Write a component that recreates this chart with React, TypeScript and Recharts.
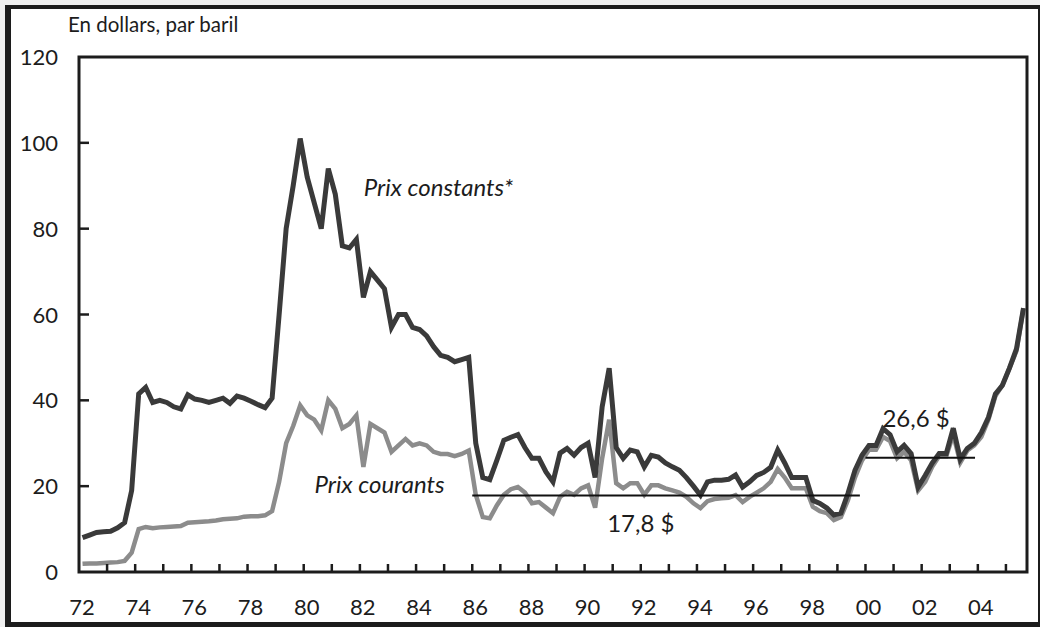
import React from "react";
import { LineChart, Line, XAxis, YAxis, ReferenceLine, ReferenceArea, ReferenceDot } from "recharts";

// quarterly, 1972Q1 .. 2005Q3, dollars per barrel
const constantPrices = [
  8, 8.6, 9.2, 9.4, // 72
  9.5, 10.3, 11.5, 19, // 73
  41.5, 43, 39.5, 40, // 74
  39.5, 38.5, 38, 41.3, // 75
  40.3, 40, 39.5, 40, // 76
  40.5, 39.3, 41, 40.5, // 77
  39.8, 39, 38.3, 40.5, // 78
  60, 80, 90, 101, // 79
  92, 86, 80, 94, // 80
  88, 76, 75.5, 77.5, // 81
  64, 70, 68, 66, // 82
  57, 60, 60, 57, // 83
  56.5, 55, 52.5, 50.5, // 84
  50, 49, 49.5, 50, // 85
  30, 22, 21.5, 26, // 86
  30.7, 31.4, 32, 29, // 87
  26.5, 26.5, 23.3, 21, // 88
  27.7, 28.8, 27.2, 29, // 89
  30, 22, 38.5, 47.5, // 90
  29, 26.5, 28.4, 28, // 91
  24.5, 27.2, 26.8, 25.4, // 92
  24.5, 23.7, 22, 20, // 93
  17.9, 21, 21.4, 21.4, // 94
  21.6, 22.6, 19.8, 21, // 95
  22.5, 23.2, 24.4, 28.4, // 96
  25.4, 22, 22, 22, // 97
  16.7, 16, 14.9, 13.3, // 98
  13.7, 18.3, 23.7, 27.2, // 99
  29.5, 29.5, 33.4, 32, // 00
  28, 29.5, 27.6, 19.8, // 01
  22.5, 25.4, 27.6, 27.6, // 02
  33.5, 26.3, 28.8, 30, // 03
  32.5, 36, 41.5, 43.5, // 04
  47.5, 52, 61.5, // 05
];

const currentPrices = [
  1.9, 2.0, 2.0, 2.1,
  2.2, 2.3, 2.6, 4.5,
  10, 10.5, 10.2, 10.4,
  10.5, 10.6, 10.7, 11.5,
  11.6, 11.7, 11.8, 12.0,
  12.3, 12.4, 12.5, 12.9,
  13.0, 13.0, 13.2, 14.2,
  21, 30, 34, 38.8,
  36.5, 35.5, 33, 40,
  38, 33.5, 34.5, 36.5,
  24.5, 34.5, 33.5, 32.5,
  28, 29.5, 31, 29.5,
  30, 29.5, 28, 27.5,
  27.5, 27, 27.5, 28.3,
  18, 12.8, 12.5, 15.5,
  18, 19.3, 19.8, 18.5,
  16, 16.3, 15, 13.7,
  17.5, 18.7, 18, 19.5,
  20.2, 15, 26.5, 35.5,
  20.7, 19.5, 20.7, 20.7,
  18, 20.2, 20.2, 19.5,
  19, 18.5, 17.5, 16,
  14.9, 16.5, 17, 17.2,
  17.3, 17.9, 16.3, 17.5,
  18.5, 19.5, 21, 24,
  22, 19.5, 19.5, 19.5,
  15.2, 14.2, 13.7, 12.1,
  12.8, 16.7, 22, 26,
  28.5, 28.5, 31.5, 30.5,
  26.5, 28, 26, 19,
  21, 24.5, 27, 27,
  32, 25.5, 28.3, 29.5,
  31.5, 35.5, 41, 43.5,
  47.5, 51.5, 61.5,
];

const yearTicks = [
  1972, 1973, 1974, 1975, 1976, 1977, 1978, 1979, 1980, 1981, 1982, 1983,
  1984, 1985, 1986, 1987, 1988, 1989, 1990, 1991, 1992, 1993, 1994, 1995,
  1996, 1997, 1998, 1999, 2000, 2001, 2002, 2003, 2004, 2005,
];
const yTicks = [0, 20, 40, 60, 80, 100, 120];

// period averages drawn as flat segments
const averages = [
  { value: 17.8, from: 1986, to: 1999.8 },
  { value: 26.6, from: 2000, to: 2003.9 },
];

const notes = [
  { text: "Prix constants*", x: 1984.8, y: 89.9, italic: true },
  { text: "Prix courants", x: 1982.7, y: 20.7, italic: true },
  { text: "17,8 $", x: 1992, y: 11.6, italic: false },
  { text: "26,6 $", x: 2001.8, y: 36.1, italic: false },
];

const data = constantPrices.map((v, i) => ({
  t: 1972 + (i + 0.5) / 4,
  constant: v,
  current: currentPrices[i],
}));

const FONT = "Lato, 'Open Sans', sans-serif";
const INK = "#1c1c1c";

const XTick = ({ x, y, payload }: any) => {
  const yr = payload.value as number;
  return (
    <g>
      {yr > 1972 && <line x1={x} x2={x} y1={y - 8} y2={y} stroke={INK} strokeWidth={2.5} />}
      {yr % 2 === 0 && (
        <text x={x + 3} y={y + 43} textAnchor="middle" fontSize={22} fill={INK} fontFamily={FONT}>
          {String(yr).slice(2)}
        </text>
      )}
    </g>
  );
};

const YTick = ({ x, y, payload }: any) => {
  const v = payload.value as number;
  return (
    <g>
      {v > 0 && v < 120 && <line x1={x} x2={x + 10} y1={y} y2={y} stroke={INK} strokeWidth={2.5} />}
      <text x={x - 21} y={y + 8} textAnchor="end" fontSize={22} fill={INK} fontFamily={FONT}>
        {v}
      </text>
    </g>
  );
};

export default function App() {
  return (
    <div style={{ position: "absolute", left: 0, top: 0, width: 1040, height: 627, background: "#efefef" }}>
      <div
        style={{
          position: "absolute", left: 5, top: 5, width: 1035, height: 622, boxSizing: "border-box",
          background: "#fff", borderStyle: "solid", borderColor: INK,
          borderWidth: "4px 2px 5px 6px",
        }}
      />
      <div
        style={{
          position: "absolute", left: 68, top: 11, fontFamily: FONT, fontSize: 20.5, color: INK,
          lineHeight: "26px", whiteSpace: "nowrap",
        }}
      >
        En dollars, par baril
      </div>
      <div style={{ position: "absolute", left: 0, top: 0 }}>
        <LineChart width={1040} height={627} data={data} margin={{ top: 57, right: 13, bottom: 0, left: 0 }}>
          <XAxis
            dataKey="t"
            type="number"
            domain={[1972, 2005.75]}
            ticks={yearTicks}
            interval={0}
            allowDataOverflow
            height={55}
            tickSize={0}
            tickMargin={0}
            tickLine={false}
            axisLine={false}
            tick={<XTick />}
          />
          <YAxis
            type="number"
            domain={[0, 120]}
            ticks={yTicks}
            interval={0}
            width={79}
            tickSize={0}
            tickMargin={0}
            tickLine={false}
            axisLine={false}
            tick={<YTick />}
          />
          <ReferenceArea x1={1972} x2={2005.75} y1={0} y2={120} fill="none" stroke={INK} strokeWidth={3} />
          <Line dataKey="current" type="linear" stroke="#8c8c8c" strokeWidth={4.5} dot={false} isAnimationActive={false} />
          <Line dataKey="constant" type="linear" stroke="#3a3a3a" strokeWidth={5} dot={false} isAnimationActive={false} />
          {averages.map((a) => (
            <ReferenceLine
              key={a.value}
              segment={[{ x: a.from, y: a.value }, { x: a.to, y: a.value }]}
              stroke="#111"
              strokeWidth={2}
            />
          ))}
          {notes.map((n) => (
            <ReferenceDot
              key={n.text}
              x={n.x}
              y={n.y}
              r={0}
              shape={(p: any) => (
                <text
                  x={p.cx}
                  y={p.cy}
                  textAnchor="middle"
                  dominantBaseline="central"
                  fontSize={n.italic ? 24 : 24}
                  fontStyle={n.italic ? "italic" : "normal"}
                  fill={INK}
                  fontFamily={FONT}
                >
                  {n.text}
                </text>
              )}
            />
          ))}
        </LineChart>
      </div>
    </div>
  );
}
